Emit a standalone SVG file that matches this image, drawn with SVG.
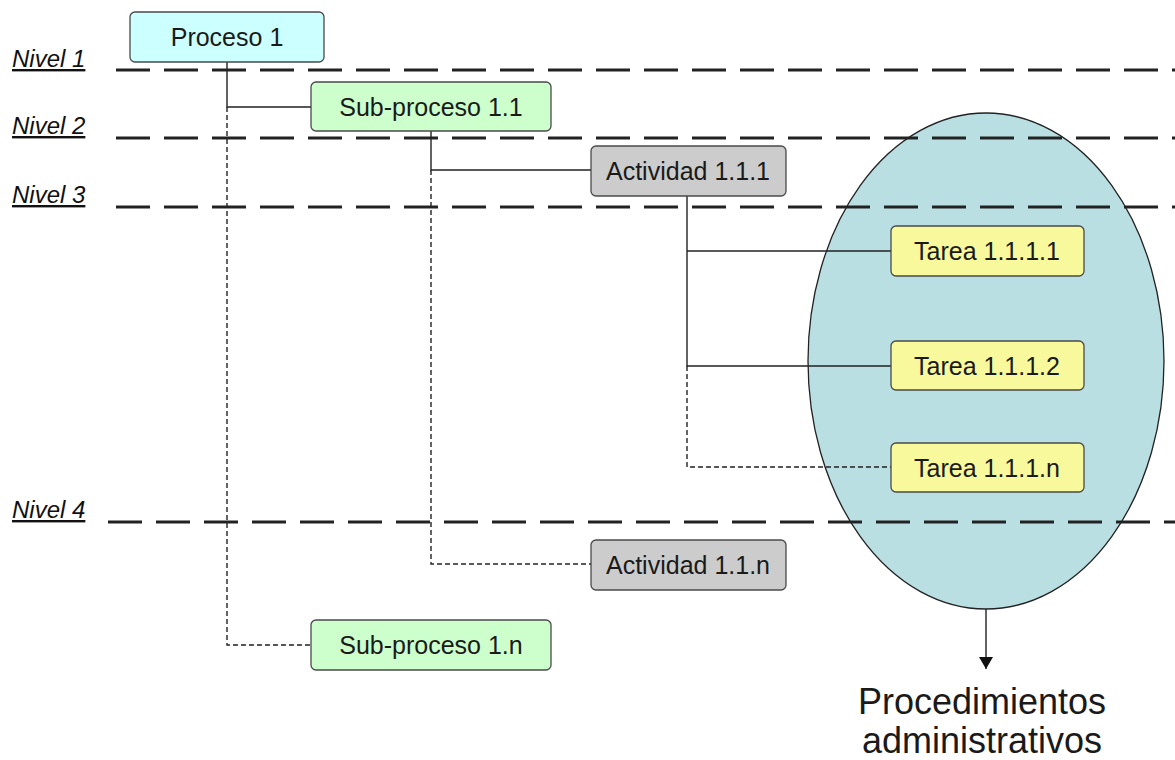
<svg xmlns="http://www.w3.org/2000/svg" width="1175" height="760" viewBox="0 0 1175 760">
  <style>
    .box { stroke: #4a4a4a; stroke-width: 1.3; }
    .lbl { font-family: "Liberation Sans", Arial, sans-serif; font-size: 25px; fill: #1a1a1a; text-anchor: middle; dominant-baseline: central; }
    .lvl { font-family: "Liberation Sans", Arial, sans-serif; font-size: 24px; font-style: italic; text-decoration: underline; fill: #111; }
    .lvline { stroke: #222; stroke-width: 2.8; stroke-dasharray: 34 14; fill: none; }
    .solid { stroke: #222; stroke-width: 1.4; fill: none; }
    .dash { stroke: #222; stroke-width: 1.4; stroke-dasharray: 5 3; fill: none; }
    .proc { fill: #ccffff; }
    .sub { fill: #ccffcc; }
    .act { fill: #cccccc; }
    .tar { fill: #f8f89c; }
    .big { font-family: "Liberation Sans", Arial, sans-serif; font-size: 36px; fill: #1a1a1a; text-anchor: middle; }
  </style>
  <defs>
    <marker id="arrow" viewBox="0 0 12 14" refX="12" refY="7" markerWidth="12" markerHeight="14" markerUnits="userSpaceOnUse" orient="auto">
      <path d="M0,0 L12,7 L0,14 z" fill="#111"/>
    </marker>
  </defs>

  <rect width="1175" height="760" fill="#ffffff"/>

  <!-- grouping ellipse -->
  <g id="procedimientos">
    <ellipse cx="986" cy="361" rx="178" ry="248" fill="#b9dfe3" stroke="#222" stroke-width="1.3"/>
  </g>

  <!-- level separators -->
  <g id="niveles">
    <text class="lvl" x="12" y="67">Nivel 1</text>
    <text class="lvl" x="12" y="134">Nivel 2</text>
    <text class="lvl" x="12" y="203">Nivel 3</text>
    <text class="lvl" x="12" y="518">Nivel 4</text>
    <line class="lvline" x1="116" y1="70" x2="1175" y2="70"/>
    <line class="lvline" x1="116" y1="138" x2="1175" y2="138"/>
    <line class="lvline" x1="116" y1="207" x2="1175" y2="207"/>
    <line class="lvline" x1="108" y1="522" x2="1175" y2="522"/>
  </g>

  <!-- connectors -->
  <g id="connectors">
    <path class="solid" d="M227,62 V107 H311"/>
    <path class="dash" d="M227,107 V645 H311"/>
    <path class="solid" d="M431,131 V170 H591"/>
    <path class="dash" d="M431,170 V564 H591"/>
    <path class="solid" d="M687,196 V366 H891"/>
    <path class="solid" d="M687,251 H891"/>
    <path class="dash" d="M687,366 V467 H891"/>
    <line class="solid" x1="986" y1="609" x2="986" y2="669" marker-end="url(#arrow)"/>
  </g>

  <g id="proceso-1">
    <rect class="box proc" x="130" y="12" width="194" height="50" rx="5"/>
    <text class="lbl" x="227" y="37">Proceso 1</text>
  </g>
  <g id="sub-proceso-1-1">
    <rect class="box sub" x="311" y="82" width="240" height="49" rx="5"/>
    <text class="lbl" x="431" y="107">Sub-proceso  1.1</text>
  </g>
  <g id="actividad-1-1-1">
    <rect class="box act" x="591" y="146" width="195" height="50" rx="5"/>
    <text class="lbl" x="688" y="171">Actividad 1.1.1</text>
  </g>
  <g id="tarea-1-1-1-1">
    <rect class="box tar" x="891" y="226" width="193" height="50" rx="5"/>
    <text class="lbl" x="987" y="251">Tarea 1.1.1.1</text>
  </g>
  <g id="tarea-1-1-1-2">
    <rect class="box tar" x="891" y="341" width="193" height="49" rx="5"/>
    <text class="lbl" x="987" y="366">Tarea 1.1.1.2</text>
  </g>
  <g id="tarea-1-1-1-n">
    <rect class="box tar" x="891" y="443" width="193" height="49" rx="5"/>
    <text class="lbl" x="987" y="468">Tarea 1.1.1.n</text>
  </g>
  <g id="actividad-1-1-n">
    <rect class="box act" x="591" y="540" width="195" height="50" rx="5"/>
    <text class="lbl" x="688" y="565">Actividad 1.1.n</text>
  </g>
  <g id="sub-proceso-1-n">
    <rect class="box sub" x="311" y="620" width="240" height="50" rx="5"/>
    <text class="lbl" x="431" y="645">Sub-proceso 1.n</text>
  </g>

  <g id="etiqueta">
    <text class="big" x="982" y="714">Procedimientos</text>
    <text class="big" x="982" y="753">administrativos</text>
  </g>
</svg>
